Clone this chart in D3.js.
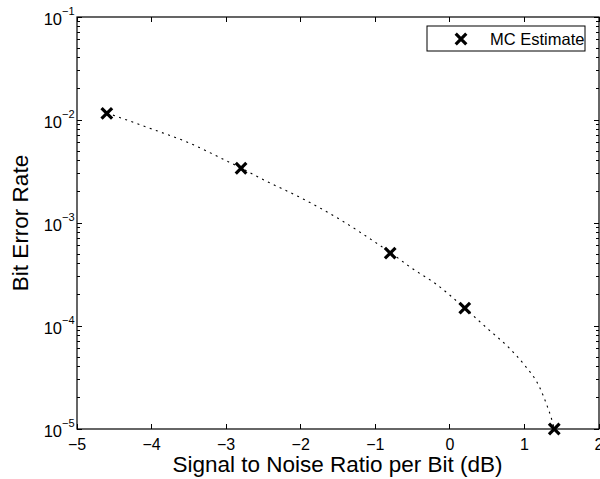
<!DOCTYPE html>
<html>
<head>
<meta charset="utf-8">
<script src="https://cdn.jsdelivr.net/npm/d3@7"></script>
<style>
html,body{margin:0;padding:0;background:#fff;}
svg{display:block;font-family:"Liberation Sans",Arial,Helvetica,sans-serif;}
</style>
</head>
<body>
<svg id="chart" width="600" height="479"></svg>
<script>
// Monte Carlo estimates
const mcSnr = [-4.6, -2.8, -0.8, 0.2, 1.4];
const mcBer = [1.16e-2, 3.4e-3, 5.1e-4, 1.49e-4, 1.0e-5];
// Dotted fitted curve
const fitSnr = [-4.6, -4.0, -3.5, -3.0, -2.8, -2.5, -2.0, -1.5, -1.0, -0.8, -0.5, -0.2, 0.2, 0.5, 0.8, 1.0, 1.2, 1.3, 1.36, 1.4];
const fitBer = [1.17e-2, 8.2e-3, 6.0e-3, 4.03e-3, 3.42e-3, 2.63e-3, 1.76e-3, 1.11e-3, 6.5e-4, 5.18e-4, 3.6e-4, 2.6e-4, 1.49e-4, 9.5e-5, 6.07e-5, 4.18e-5, 2.57e-5, 1.71e-5, 1.28e-5, 1.0e-5];
const xTicks = [-5, -4, -3, -2, -1, 0, 1, 2];
const yExponents = [-1, -2, -3, -4, -5];
const legendLabel = "MC Estimate";
const xTitle = "Signal to Noise Ratio per Bit (dB)";
const yTitle = "Bit Error Rate";

const svg = d3.select("#chart");
const L = 77, R = 599, T = 17, B = 429;
const x = d3.scaleLinear().domain([-5, 2]).range([L, R]);
const y = d3.scaleLog().domain([1e-5, 1e-1]).range([B, T]);

// minor ticks
const minors = [];
for (let e = -5; e < -1; e++) for (let m = 2; m <= 9; m++) minors.push(m * Math.pow(10, e));

const g = svg.append("g");
g.selectAll(".xt").data(xTicks).enter().append("line")
  .attr("x1", d => x(d)).attr("x2", d => x(d)).attr("y1", B).attr("y2", B - 5)
  .attr("stroke", "#000").attr("stroke-width", 1).attr("shape-rendering", "crispEdges");
g.selectAll(".xtt").data(xTicks).enter().append("line")
  .attr("x1", d => x(d)).attr("x2", d => x(d)).attr("y1", T).attr("y2", T + 5)
  .attr("stroke", "#000").attr("stroke-width", 1).attr("shape-rendering", "crispEdges");
const yMaj = yExponents.map(e => Math.pow(10, e));
[[L, 1], [R, -1]].forEach(([x0, dir]) => {
  g.selectAll(null).data(yMaj).enter().append("line")
    .attr("x1", x0).attr("x2", x0 + dir * 5).attr("y1", d => y(d)).attr("y2", d => y(d))
    .attr("stroke", "#000").attr("shape-rendering", "crispEdges");
  g.selectAll(null).data(minors).enter().append("line")
    .attr("x1", x0).attr("x2", x0 + dir * 3).attr("y1", d => y(d)).attr("y2", d => y(d))
    .attr("stroke", "#000").attr("shape-rendering", "crispEdges");
});
g.append("rect").attr("x", L).attr("y", T).attr("width", R - L).attr("height", B - T)
  .attr("fill", "none").attr("stroke", "#000").attr("stroke-width", 1.2);

// x tick labels
g.selectAll(".xl").data(xTicks).enter().append("text")
  .attr("x", d => x(d)).attr("y", B + 21).attr("text-anchor", "middle")
  .attr("font-size", 16).text(d => d < 0 ? "\u2212" + Math.abs(d) : d);
// y tick labels
yExponents.forEach(e => {
  const t = g.append("text").attr("class", "ylab").attr("y", y(Math.pow(10, e)) + 8)
    .attr("font-size", 16.5);
  const base = t.append("tspan").text("10");
  t.append("tspan").attr("dy", -10).attr("font-size", 11).text("\u2212" + Math.abs(e));
  const w10 = base.node().getComputedTextLength();
  t.attr("x", 62 - w10);
});

// axis titles
svg.append("text").attr("x", 337.5).attr("y", 472).attr("text-anchor", "middle")
  .attr("font-size", 22.5).text(xTitle);
svg.append("text").attr("transform", `translate(28,${(T + B) / 2}) rotate(-90)`)
  .attr("text-anchor", "middle").attr("font-size", 22.5).text(yTitle);

// dotted curve
const fit = fitSnr.map((s, i) => [s, fitBer[i]]);
const line = d3.line().x(d => x(d[0])).y(d => y(d[1])).curve(d3.curveMonotoneX);
svg.append("path").attr("d", line(fit)).attr("fill", "none")
  .attr("stroke", "#000").attr("stroke-width", 1.1).attr("stroke-dasharray", "2,4.5");

// markers
function cross(sel, cx, cy, s) {
  sel.append("path").attr("d", `M${cx - s},${cy - s}L${cx + s},${cy + s}M${cx - s},${cy + s}L${cx + s},${cy - s}`)
    .attr("stroke", "#000").attr("stroke-width", 3.2).attr("fill", "none");
}
const mk = svg.append("g");
mcSnr.forEach((s, i) => cross(mk, x(s), y(mcBer[i]), 5.3));

// legend
const lg = svg.append("g");
lg.append("rect").attr("x", 427).attr("y", 26).attr("width", 158).attr("height", 25)
  .attr("fill", "#fff").attr("stroke", "#000").attr("stroke-width", 1);
cross(lg, 461, 39, 5.3);
lg.append("text").attr("x", 490).attr("y", 45).attr("font-size", 16.5).text(legendLabel);
</script>
</body>
</html>
